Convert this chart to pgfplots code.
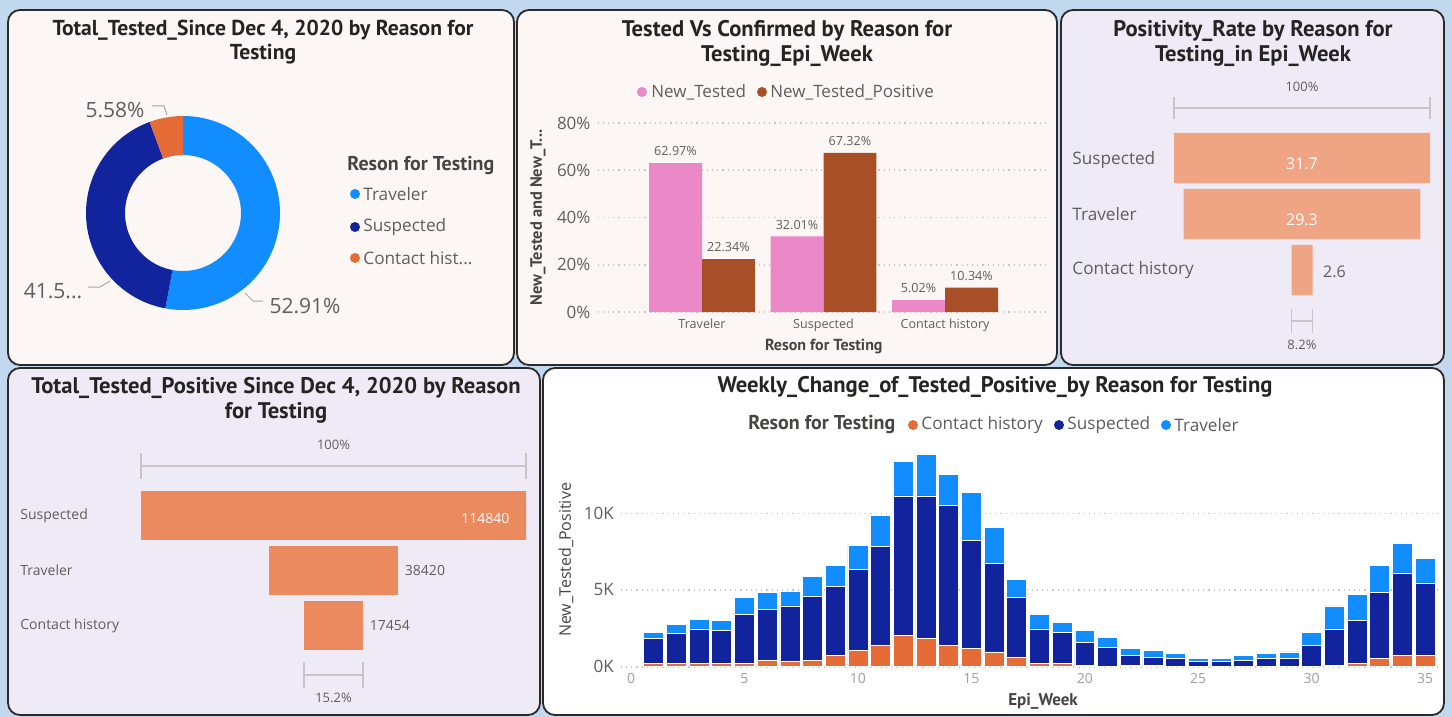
\documentclass[border=0pt]{standalone}
\usepackage{fontspec}
\setmainfont{Open Sans}
\newfontfamily\tf{PT Sans}
\usepackage{pgfplots}
\pgfplotsset{compat=1.18}
\usepackage{pgfplotstable}
\pgfplotsset{/pgf/number format/assume math mode=true}

\definecolor{bgblue}{HTML}{C2D8EE}
\definecolor{panelA}{HTML}{FCF7F5}
\definecolor{panelB}{HTML}{EFEBF6}
\definecolor{trav}{HTML}{118DFF}
\definecolor{susp}{HTML}{12239E}
\definecolor{cont}{HTML}{E66C37}
\definecolor{pinkb}{HTML}{EB89C8}
\definecolor{brownb}{HTML}{A94F28}
\definecolor{funA}{HTML}{EFA583}
\definecolor{funB}{HTML}{EB8A5F}
\definecolor{txtgray}{HTML}{605E5C}
\definecolor{titlec}{HTML}{252423}
\definecolor{gridc}{HTML}{C8C6C4}
\definecolor{bordc}{HTML}{2A2A2A}

\newcommand\fsz[1]{\fontsize{#1}{#1}\selectfont}

\pgfplotstableread{
week cont susp trav
1 0.22 1.61 0.41
2 0.22 1.93 0.63
3 0.22 2.24 0.65
4 0.22 2.13 0.65
5 0.22 3.21 1.07
6 0.43 3.33 1.07
7 0.35 3.61 0.95
8 0.43 4.18 1.28
9 0.74 4.52 1.37
10 1.07 5.26 1.58
11 1.39 6.44 2.02
12 2.04 9.09 2.26
13 1.83 9.30 2.70
14 1.39 9.11 2.04
15 1.17 7.09 3.11
16 0.96 5.80 2.33
17 0.63 3.87 1.17
18 0.22 2.24 0.97
19 0.22 2.04 0.63
20 0.09 1.52 0.74
21 0.04 1.24 0.65
22 0.09 0.65 0.43
23 0.09 0.54 0.44
24 0.02 0.50 0.33
25 0 0.33 0.19
26 0 0.33 0.19
27 0 0.43 0.31
28 0 0.52 0.33
29 0 0.52 0.44
30 0 1.39 0.85
31 0.09 2.37 1.50
32 0.22 2.78 1.72
33 0.52 4.31 1.80
34 0.74 5.37 1.91
35 0.74 4.72 1.61
}\weekly

\pgfplotstableread{
idx tested positive
0 62.97 22.34
1 32.01 67.32
2 5.02 10.34
}\tvc

\pgfplotstableread{
idx off val
0 0 31.7
1 1.2 29.3
2 14.55 2.6
}\posrate

\pgfplotstableread{
idx off val
0 0 114840
1 38210 38420
2 48693 17454
}\totpos

\def\pT{52.91}\def\pS{41.51}\def\pC{5.58}

\newcommand\donutseg[3]{\fill[#3] (axis cs:{cos(#1)},{sin(#1)}) arc[start angle=#1,end angle=#2,radius=48.5pt] -- (axis cs:{0.598*cos(#2)},{0.598*sin(#2)}) arc[start angle=#2,end angle=#1,radius=29pt] -- cycle;}

\pgfplotsset{
  funnelA/.style={at={(587pt,-149pt)}, anchor=south west, scale only axis, width=128pt, height=84pt,
    xmin=0, xmax=31.7, ymin=-0.5, ymax=2.5, y dir=reverse, hide axis, clip=false},
  funnelB/.style={at={(70.5pt,-326.5pt)}, anchor=south west, scale only axis, width=192.5pt, height=82.5pt,
    xmin=0, xmax=114840, ymin=-0.5, ymax=2.5, y dir=reverse, hide axis, clip=false},
}

\begin{document}
\begin{tikzpicture}
\begin{scope}[x=0.5pt,y=-0.5pt]
\fill[bgblue] (0,0) rectangle (1452,717);
\begin{scope}[draw=bordc, line width=0.9pt, rounded corners=6pt]
\filldraw[fill=panelA] (8,10) rectangle (514,365);
\filldraw[fill=panelA] (517,10) rectangle (1057,365);
\filldraw[fill=panelB] (1061,10) rectangle (1444,365);
\filldraw[fill=panelB] (8,368) rectangle (540,715);
\filldraw[fill=white] (543,368) rectangle (1444,715);
\end{scope}
% titles
\begin{scope}[every node/.style={font=\tf\bfseries\fsz{11.3}, text=titlec, inner sep=0pt}]
\node[font=\tf\bfseries\fsz{10.8}] at (263,30) {Total\_Tested\_Since Dec 4, 2020 by Reason for};
\node[font=\tf\bfseries\fsz{10.8}] at (263,54) {Testing};
\node at (787,31) {Tested Vs Confirmed by Reason for};
\node at (787,56) {Testing\_Epi\_Week};
\node at (1253,31) {Positivity\_Rate by Reason for};
\node at (1253,56) {Testing\_in Epi\_Week};
\node at (276,388) {Total\_Tested\_Positive Since Dec 4, 2020 by Reason};
\node at (276,413) {for Testing};
\node at (995,387) {Weekly\_Change\_of\_Tested\_Positive\_by Reason for Testing};
\end{scope}
% donut labels
\begin{scope}[every node/.style={font=\fsz{10.5}, text=txtgray, inner sep=0pt}]
\node at (115,110) {5.58\%};
\node at (53,291) {41.5...};
\node at (305,306) {52.91\%};
\end{scope}
\draw[gray!70, line width=0.5pt] (152,106)--(164,106)--(167,115);
\draw[gray!70, line width=0.5pt] (88,287)--(100,287)--(110,281);
\draw[gray!70, line width=0.5pt] (245,293)--(253,301)--(263,301);
% donut legend
\node[font=\tf\bfseries\fsz{10}, text=titlec!85, anchor=west, inner sep=0pt] at (347,166) {Reson for Testing};
\fill[trav] (355,194) circle (5);
\fill[susp] (355,227) circle (5);
\fill[cont] (355,258) circle (5);
\begin{scope}[every node/.style={font=\fsz{8.6}, text=txtgray, anchor=west, inner sep=0pt}]
\node at (363,194) {Traveler};
\node at (363,227) {Suspected};
\node at (363,258) {Contact hist...};
\end{scope}
% panel 2 legend
\fill[pinkb] (642,92) circle (5);
\fill[brownb] (762,92) circle (5);
\begin{scope}[every node/.style={font=\fsz{8.5}, text=txtgray, anchor=west, inner sep=0pt}]
\node at (651,92) {New\_Tested};
\node at (770,92) {New\_Tested\_Positive};
\end{scope}
% panel 5 legend
\node[font=\tf\bfseries\fsz{10}, text=titlec!85, anchor=west, inner sep=0pt] at (748,425) {Reson for Testing};
\fill[cont] (913,425) circle (5);
\fill[susp] (1059,425) circle (5);
\fill[trav] (1166,425) circle (5);
\begin{scope}[every node/.style={font=\fsz{8.6}, text=txtgray, anchor=west, inner sep=0pt}]
\node at (921,425) {Contact history};
\node at (1067,425) {Suspected};
\node at (1174,425) {Traveler};
\end{scope}
\end{scope}

% ---------- donut
\pgfmathsetmacro\aA{90-3.6*\pT}
\pgfmathsetmacro\aB{\aA-3.6*\pS}
\pgfmathsetmacro\aC{\aB-3.6*\pC}
\begin{axis}[at={(91.5pt,-106.5pt)}, anchor=center, scale only axis, width=97pt, height=97pt,
  xmin=-1, xmax=1, ymin=-1, ymax=1, hide axis, clip=false]
\donutseg{90}{\aA}{trav}
\donutseg{\aA}{\aB}{susp}
\donutseg{\aB}{\aC}{cont}
\end{axis}

% ---------- grouped bars
\begin{axis}[at={(298.75pt,-156pt)}, anchor=south west, scale only axis, width=225.4pt, height=94.5pt,
  xmin=-0.86, xmax=2.85, ymin=0, ymax=80,
  ybar, bar width=0.436,
  axis line style={draw=none}, major tick length=0pt,
  ymajorgrids, grid style={gridc, line width=0.8pt, dash pattern=on 0.6pt off 2pt},
  xtick={0,1,2}, xticklabels={Traveler,Suspected,Contact history},
  ytick={0,20,40,60,80}, yticklabel={\pgfmathprintnumber{\tick}\%},
  ticklabel style={text=txtgray},
  xticklabel style={font=\fsz{6.3}},
  yticklabel style={font=\fsz{8.5}},
  xlabel={Reson for Testing}, ylabel={New\_Tested and New\_T...},
  xlabel style={font=\tf\bfseries\fsz{8}, text=titlec!85, at={(axis description cs:0.502,-0.185)}, anchor=center},
  ylabel style={font=\tf\bfseries\fsz{8.2}, text=titlec!85, at={(axis description cs:-0.132,0.5)}, anchor=center},
  nodes near coords={\pgfmathprintnumber[fixed,fixed zerofill,precision=2]{\pgfplotspointmeta}\%},
  every node near coord/.append style={font=\fsz{6.3}, text=txtgray},
  clip=false]
\addplot[fill=pinkb, draw=none, bar shift=-0.218] table[x=idx,y=tested]{\tvc};
\addplot[fill=brownb, draw=none, bar shift=0.218] table[x=idx,y=positive]{\tvc};
\end{axis}

% ---------- positivity funnel
\begin{axis}[funnelA, xbar stacked, bar width=0.893]
\addplot[draw=none, fill=none] table[x=off,y=idx]{\posrate};
\addplot[fill=funA, draw=none] table[x=val,y=idx]{\posrate};
\end{axis}
\begin{axis}[funnelA]
\draw[gridc, line width=0.75pt] (axis cs:0,-0.89) -- (axis cs:31.7,-0.89);
\draw[gridc, line width=0.75pt] (axis cs:0,-1.09) -- (axis cs:0,-0.69);
\draw[gridc, line width=0.75pt] (axis cs:31.7,-1.09) -- (axis cs:31.7,-0.69);
\draw[gridc, line width=0.75pt] (axis cs:14.55,2.91) -- (axis cs:17.15,2.91);
\draw[gridc, line width=0.75pt] (axis cs:14.55,2.7) -- (axis cs:14.55,3.12);
\draw[gridc, line width=0.75pt] (axis cs:17.15,2.7) -- (axis cs:17.15,3.12);
\node[font=\fsz{6.5}, text=txtgray] at (axis cs:15.85,-1.27) {100\%};
\node[font=\fsz{6.5}, text=txtgray] at (axis cs:15.85,3.34) {8.2\%};
\node[font=\fsz{8}, text=white] at (axis cs:15.85,0.1) {31.7};
\node[font=\fsz{8}, text=white] at (axis cs:15.85,1.1) {29.3};
\node[font=\fsz{8}, text=txtgray, anchor=west] at (axis cs:17.6,2.03) {2.6};
\node[font=\fsz{8.6}, text=txtgray, anchor=west, inner sep=0pt] at (axis cs:-12.63,0.03) {Suspected};
\node[font=\fsz{8.6}, text=txtgray, anchor=west, inner sep=0pt] at (axis cs:-12.63,1.0) {Traveler};
\node[font=\fsz{8.6}, text=txtgray, anchor=west, inner sep=0pt] at (axis cs:-12.63,2.0) {Contact history};
\end{axis}

% ---------- total positive funnel
\begin{axis}[funnelB, xbar stacked, bar width=0.89]
\addplot[draw=none, fill=none] table[x=off,y=idx]{\totpos};
\addplot[fill=funB, draw=none] table[x=val,y=idx]{\totpos};
\end{axis}
\begin{axis}[funnelB]
\draw[gridc, line width=0.75pt] (axis cs:0,-0.9) -- (axis cs:114840,-0.9);
\draw[gridc, line width=0.75pt] (axis cs:0,-1.13) -- (axis cs:0,-0.67);
\draw[gridc, line width=0.75pt] (axis cs:114840,-1.13) -- (axis cs:114840,-0.67);
\draw[gridc, line width=0.75pt] (axis cs:48693,2.9) -- (axis cs:66147,2.9);
\draw[gridc, line width=0.75pt] (axis cs:48693,2.67) -- (axis cs:48693,3.13);
\draw[gridc, line width=0.75pt] (axis cs:66147,2.67) -- (axis cs:66147,3.13);
\node[font=\fsz{6.5}, text=txtgray] at (axis cs:57420,-1.28) {100\%};
\node[font=\fsz{6.5}, text=txtgray] at (axis cs:57420,3.32) {15.2\%};
\node[font=\fsz{7}, text=white, anchor=east] at (axis cs:112000,0.05) {114840};
\node[font=\fsz{7}, text=txtgray, anchor=west] at (axis cs:76630,1) {38420};
\node[font=\fsz{7}, text=txtgray, anchor=west] at (axis cs:66147,2) {17454};
\node[font=\fsz{7}, text=txtgray, anchor=west, inner sep=0pt] at (axis cs:-36093,0) {Suspected};
\node[font=\fsz{7}, text=txtgray, anchor=west, inner sep=0pt] at (axis cs:-36093,1) {Traveler};
\node[font=\fsz{7}, text=txtgray, anchor=west, inner sep=0pt] at (axis cs:-36093,2) {Contact history};
\end{axis}

% ---------- weekly stacked
\begin{axis}[at={(310.4pt,-333.35pt)}, anchor=south west, scale only axis, width=408.4pt, height=108.9pt,
  xmin=-0.45, xmax=35.55, ymin=0, ymax=14.2,
  ybar stacked, bar width=0.88,
  axis line style={draw=none}, major tick length=0pt,
  ymajorgrids, grid style={gridc, line width=0.8pt, dash pattern=on 0.6pt off 2pt},
  xtick={0,5,...,35}, ytick={0,5,10}, yticklabels={0K,5K,10K},
  xticklabel style={font=\fsz{7}, text=gray!75},
  yticklabel style={font=\fsz{8.5}, text=txtgray},
  xlabel={Epi\_Week}, ylabel={New\_Tested\_Positive},
  xlabel style={font=\tf\bfseries\fsz{8.5}, text=titlec!85, at={(axis description cs:0.517,-0.16)}, anchor=center},
  ylabel style={font=\fsz{8}, text=titlec!85, at={(axis description cs:-0.067,0.49)}, anchor=center},
  clip=false]
\addplot[fill=cont, draw=white, line width=0.3pt] table[x=week,y=cont]{\weekly};
\addplot[fill=susp, draw=white, line width=0.3pt] table[x=week,y=susp]{\weekly};
\addplot[fill=trav, draw=white, line width=0.3pt] table[x=week,y=trav]{\weekly};
\end{axis}

\pgfresetboundingbox
\path[use as bounding box] (0pt,0pt) rectangle (726pt,-358.5pt);
\end{tikzpicture}
\end{document}
